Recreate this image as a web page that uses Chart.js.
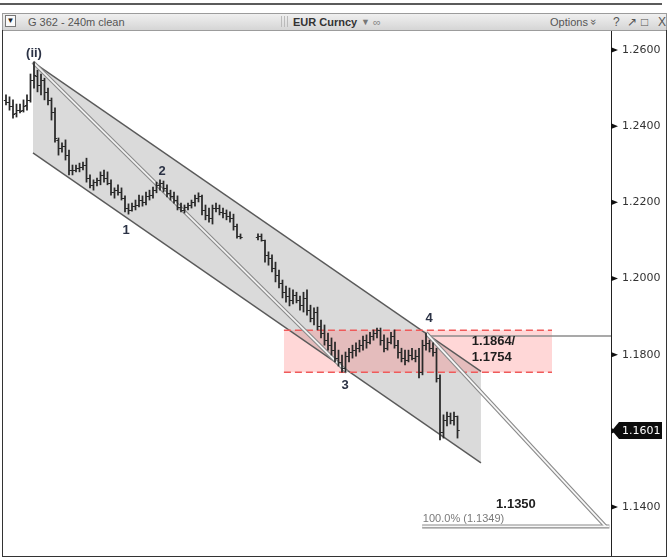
<!DOCTYPE html>
<html><head><meta charset="utf-8">
<script src="https://cdn.jsdelivr.net/npm/chart.js@4.4.1/dist/chart.umd.min.js"></script>
<style>
html,body{margin:0;padding:0;background:#fff;}
body{width:670px;height:560px;position:relative;overflow:hidden;font-family:"Liberation Sans",Arial,sans-serif;}
#topline{position:absolute;left:0;top:3px;width:662px;height:2px;background:#5b5b5b;}
#hdr{position:absolute;left:2px;top:13px;width:665px;height:18px;box-sizing:border-box;border:1px solid #9c9c9c;background:linear-gradient(#f0f0f0,#d5d5d5);font-size:11px;color:#555;}
#hdr span{position:absolute;top:1px;line-height:14px;white-space:nowrap;}
#dd{position:absolute;left:2px;top:1px;width:11px;height:12px;box-sizing:border-box;border:1px solid #777;background:#fafafa;font-size:8px;line-height:10px;text-align:center;color:#222;}
#grip{position:absolute;left:278px;top:2px;width:7px;height:11px;background:repeating-linear-gradient(90deg,#bbb 0 1px,transparent 1px 3px);}
#frame{position:absolute;left:2px;top:30px;width:665px;height:527px;box-sizing:border-box;border-left:1px solid #333;border-right:1px solid #333;border-bottom:1px solid #333;}
#wrap{position:absolute;left:3px;top:31px;width:662px;height:525px;}
</style></head>
<body>
<div id="topline"></div>
<div id="hdr">
  <div id="dd">&#9660;</div>
  <span style="left:25px;">G 362 - 240m clean</span>
  <div id="grip"></div>
  <span style="left:290px;font-weight:bold;color:#333;">EUR Curncy</span>
  <span style="left:358px;color:#777;font-size:9px;">&#9660;</span>
  <span style="left:370px;color:#888;">&#8734;</span>
  <span style="left:547px;">Options <span style="position:static;display:inline-block;transform:rotate(90deg);">&#187;</span></span>
  <span style="left:610px;font-size:12px;">?</span>
  <span style="left:624px;font-size:12px;">&#8599;</span>
  <span style="left:638px;font-size:12px;">&#9633;</span>
  <span style="left:655px;font-size:12px;">X</span>
</div>
<div id="frame"></div>
<div id="wrap"><canvas id="c" width="662" height="525"></canvas></div>
<script>
// ---- price bars (240m OHLC), gap = missing bars ----
const opens = [
1.2469,1.2463,1.2453,1.2435,1.2442,1.2442,1.2456,1.2469,1.2521,1.2532,
1.2508,1.2521,1.2490,1.2469,1.2437,1.2364,1.2343,1.2348,1.2324,1.2285,
1.2285,1.2290,1.2293,1.2298,1.2264,1.2246,1.2253,1.2259,1.2272,1.2264,
1.2251,1.2227,1.2232,1.2227,1.2211,1.2185,1.2180,1.2190,1.2193,1.2206,
1.2201,1.2217,1.2219,1.2232,1.2246,1.2251,1.2238,1.2225,1.2217,1.2206,
1.2188,1.2180,1.2188,1.2193,1.2201,1.2211,1.2217,1.2180,1.2167,1.2159,
1.2185,1.2185,1.2175,1.2172,1.2164,1.2159,1.2138,1.2112,null,null,null,null,
1.2109,1.2112,1.2101,1.2062,1.2054,1.2028,1.2009,1.1988,
1.1964,1.1954,1.1944,1.1957,1.1944,1.1930,1.1949,1.1917,1.1896,1.1912,
1.1875,1.1857,1.1838,1.1825,1.1812,1.1791,1.1781,1.1765,1.1796,1.1807,
1.1812,1.1817,1.1825,1.1838,1.1833,1.1849,1.1857,1.1865,1.1838,1.1817,
1.1833,1.1849,1.1825,1.1807,1.1791,1.1786,1.1799,1.1791,1.1796,1.1754,
1.1825,1.1831,1.1817,1.1807,1.1739,1.1597,1.1628,1.1639,1.1628,1.1639];
const highs = [
1.2482,1.2477,1.2469,1.2458,1.2458,1.2469,1.2482,1.2537,1.2568,1.2547,
1.2537,1.2526,1.2500,1.2474,1.2448,1.2369,1.2356,1.2364,1.2337,1.2298,
1.2298,1.2303,1.2306,1.2316,1.2272,1.2259,1.2264,1.2280,1.2285,1.2280,
1.2259,1.2238,1.2246,1.2238,1.2217,1.2196,1.2198,1.2206,1.2219,1.2217,
1.2227,1.2232,1.2240,1.2253,1.2259,1.2256,1.2246,1.2232,1.2227,1.2217,
1.2198,1.2193,1.2198,1.2206,1.2219,1.2225,1.2219,1.2193,1.2185,1.2193,
1.2198,1.2193,1.2185,1.2180,1.2175,1.2169,1.2143,1.2117,null,null,null,null,
1.2117,1.2117,1.2101,1.2070,1.2062,1.2043,1.2022,1.1996,
1.1980,1.1975,1.1970,1.1964,1.1954,1.1964,1.1970,1.1930,1.1923,1.1925,
1.1891,1.1878,1.1857,1.1844,1.1833,1.1812,1.1799,1.1807,1.1817,1.1825,
1.1831,1.1838,1.1849,1.1852,1.1859,1.1865,1.1870,1.1870,1.1852,1.1844,
1.1859,1.1865,1.1838,1.1817,1.1812,1.1812,1.1817,1.1812,1.1817,1.1838,
1.1857,1.1838,1.1831,1.1817,1.1747,1.1642,1.1649,1.1647,1.1649,1.1639];
const lows = [
1.2456,1.2442,1.2421,1.2424,1.2435,1.2437,1.2442,1.2463,1.2500,1.2490,
1.2482,1.2469,1.2456,1.2416,1.2358,1.2324,1.2332,1.2311,1.2272,1.2272,
1.2280,1.2280,1.2285,1.2253,1.2238,1.2232,1.2243,1.2246,1.2253,1.2246,
1.2219,1.2211,1.2219,1.2206,1.2175,1.2169,1.2177,1.2180,1.2188,1.2190,
1.2193,1.2206,1.2211,1.2225,1.2232,1.2227,1.2214,1.2206,1.2198,1.2180,
1.2175,1.2172,1.2180,1.2185,1.2190,1.2201,1.2167,1.2154,1.2148,1.2143,
1.2175,1.2167,1.2159,1.2154,1.2148,1.2127,1.2106,1.2104,null,null,null,null,
1.2101,1.2098,1.2043,1.2035,1.2017,1.1991,1.1975,1.1949,
1.1938,1.1928,1.1933,1.1936,1.1917,1.1912,1.1904,1.1886,1.1878,1.1865,
1.1844,1.1825,1.1812,1.1799,1.1781,1.1770,1.1754,1.1754,1.1781,1.1791,
1.1796,1.1807,1.1812,1.1817,1.1828,1.1838,1.1844,1.1825,1.1807,1.1812,
1.1828,1.1817,1.1791,1.1781,1.1773,1.1781,1.1786,1.1781,1.1739,1.1747,
1.1812,1.1807,1.1796,1.1728,1.1576,1.1581,1.1613,1.1618,1.1615,1.1581];
const closes = [
1.2463,1.2453,1.2432,1.2442,1.2440,1.2453,1.2469,1.2521,1.2534,1.2508,
1.2521,1.2490,1.2469,1.2437,1.2369,1.2343,1.2348,1.2324,1.2285,1.2285,
1.2290,1.2293,1.2298,1.2264,1.2246,1.2253,1.2259,1.2272,1.2264,1.2251,
1.2227,1.2232,1.2227,1.2211,1.2185,1.2180,1.2190,1.2193,1.2206,1.2201,
1.2217,1.2219,1.2232,1.2246,1.2251,1.2238,1.2225,1.2217,1.2206,1.2188,
1.2180,1.2188,1.2193,1.2201,1.2211,1.2217,1.2180,1.2167,1.2159,1.2185,
1.2185,1.2175,1.2172,1.2164,1.2159,1.2138,1.2112,1.2109,null,null,null,null,
1.2112,1.2101,1.2062,1.2054,1.2028,1.2009,1.1988,1.1964,
1.1954,1.1944,1.1957,1.1944,1.1930,1.1949,1.1917,1.1896,1.1912,1.1875,
1.1857,1.1838,1.1825,1.1812,1.1791,1.1781,1.1765,1.1796,1.1807,1.1812,
1.1817,1.1825,1.1838,1.1833,1.1849,1.1857,1.1865,1.1838,1.1817,1.1833,
1.1849,1.1825,1.1807,1.1791,1.1786,1.1799,1.1791,1.1796,1.1754,1.1825,
1.1831,1.1817,1.1807,1.1739,1.1597,1.1628,1.1639,1.1628,1.1639,1.1601];

// ---- drawn studies (bar index, price) ----
const channelTop    = [[7.7, 1.2568], [135.7, 1.1756]];
const channelBottom = [[7.7, 1.2330], [135.7, 1.1516]];
const forkA         = [[7.7, 1.2568], [97.4, 1.1754]];
const forkB         = [[120.0, 1.1857], [171.3, 1.1349]];
const fibLine       = [[118.9, 1.1349], [172.4, 1.1349]];
const wave4Line     = [[120.0, 1.1849], [172.86, 1.1849]];
const zoneX         = [79.4, 156.0];
const zoneTop       = 1.1864;
const zoneBottom    = 1.1754;

// ---- axis ----
const tickValues = [1.13,1.14,1.15,1.16,1.17,1.18,1.19,1.20,1.21,1.22,1.23,1.24,1.25,1.26];
const tickLabels = {'1.14':'1.1400','1.16':'1.1600','1.18':'1.1800','1.20':'1.2000','1.22':'1.2200','1.24':'1.2400','1.26':'1.2600'};
const lastPrice = 1.1601;

// ---- text annotations ----
const waveText = ['(ii)', '1', '2', '3', '4'];
const waveX    = [8.0, 34.3, 44.6, 96.9, 120.9];
const waveY    = [1.2592, 1.2127, 1.2282, 1.1718, 1.1894];
const noteText = ['1.1864/', '1.1754', '1.1350'];
const noteX    = [133.1, 133.1, 145.7];
const noteY    = [1.1836, 1.1794, 1.1408];
const fibText  = '100.0% (1.1349)';
const fibX = 119.1, fibY = 1.1368;

const pts = a => a.map(p => ({x: p[0], y: p[1]}));
const barData = [];
for (let i = 0; i < closes.length; i++) {
  if (highs[i] === null) continue;
  barData.push({x: i, y: [lows[i], highs[i]]});
}

const ohlcTicks = {
  id: 'ohlcTicks',
  afterDatasetsDraw(chart) {
    const {ctx, scales: {x, y}} = chart;
    ctx.save();
    ctx.strokeStyle = '#2a2a2a';
    ctx.lineWidth = 1;
    ctx.beginPath();
    for (let i = 0; i < closes.length; i++) {
      if (opens[i] === null) continue;
      const px = x.getPixelForValue(i);
      const po = Math.round(y.getPixelForValue(opens[i])) + 0.5;
      const pc = Math.round(y.getPixelForValue(closes[i])) + 0.5;
      ctx.moveTo(px - 2.2, po); ctx.lineTo(px, po);
      ctx.moveTo(px, pc); ctx.lineTo(px + 2.2, pc);
    }
    ctx.stroke();
    ctx.restore();
  }
};

const annot = {
  id: 'annot',
  afterDraw(chart) {
    const {ctx, scales: {x, y}} = chart;
    ctx.save();
    // axis arrow marks on major ticks
    ctx.fillStyle = '#111';
    Object.keys(tickLabels).forEach(k => {
      const py = y.getPixelForValue(parseFloat(k));
      ctx.beginPath();
      ctx.moveTo(y.left, py - 2.8); ctx.lineTo(y.left + 7, py); ctx.lineTo(y.left, py + 2.8);
      ctx.closePath(); ctx.fill();
    });
    // wave labels
    ctx.font = 'bold 13px "Liberation Sans", Arial, sans-serif';
    ctx.textAlign = 'center'; ctx.textBaseline = 'middle';
    ctx.fillStyle = '#2b3245';
    waveText.forEach((t, i) => ctx.fillText(t, x.getPixelForValue(waveX[i]), y.getPixelForValue(waveY[i])));
    // target notes
    ctx.fillStyle = '#1e1e1e';
    ctx.textAlign = 'left';
    ctx.fillText(noteText[0], x.getPixelForValue(noteX[0]), y.getPixelForValue(noteY[0]));
    ctx.fillText(noteText[1], x.getPixelForValue(noteX[1]), y.getPixelForValue(noteY[1]));
    ctx.textAlign = 'center';
    ctx.fillText(noteText[2], x.getPixelForValue(noteX[2]), y.getPixelForValue(noteY[2]));
    // fib label
    ctx.font = '11px "Liberation Sans", Arial, sans-serif';
    ctx.fillStyle = '#7a7a7a';
    ctx.textAlign = 'left';
    ctx.fillText(fibText, x.getPixelForValue(fibX), y.getPixelForValue(fibY));
    // last price box
    const py = y.getPixelForValue(lastPrice);
    const ax = y.left + 1;
    ctx.fillStyle = '#0c0c0c';
    ctx.beginPath();
    ctx.moveTo(ax, py); ctx.lineTo(ax + 7, py - 8.5); ctx.lineTo(ax + 50, py - 8.5);
    ctx.lineTo(ax + 50, py + 8.5); ctx.lineTo(ax + 7, py + 8.5); ctx.closePath(); ctx.fill();
    ctx.fillStyle = '#ffffff';
    ctx.font = '11px "DejaVu Sans", sans-serif';
    ctx.textAlign = 'left'; ctx.textBaseline = 'middle';
    ctx.fillText(lastPrice.toFixed(4), ax + 10, py + 0.5);
    ctx.restore();
  }
};

const lineBase = {type: 'line', pointRadius: 0, pointHoverRadius: 0, fill: false, tension: 0};

new Chart(document.getElementById('c'), {
  type: 'bar',
  data: {
    datasets: [
      {type: 'bar', label: 'EUR Curncy', data: barData, backgroundColor: '#2a2a2a', barThickness: 1.1, order: 0},
      Object.assign({}, lineBase, {label: 'Channel top', data: pts(channelTop), borderColor: '#5a5a5a', borderWidth: 1.4, order: 12}),
      Object.assign({}, lineBase, {label: 'Channel bottom', data: pts(channelBottom), borderColor: '#5a5a5a', borderWidth: 1.4, fill: '-1', backgroundColor: 'rgba(196,196,196,0.62)', order: 11}),
      Object.assign({}, lineBase, {label: 'Zone top', data: [{x: zoneX[0], y: zoneTop}, {x: zoneX[1], y: zoneTop}], borderColor: '#ef5a5a', borderWidth: 1.4, borderDash: [7, 4], order: 10}),
      Object.assign({}, lineBase, {label: 'Zone bottom', data: [{x: zoneX[0], y: zoneBottom}, {x: zoneX[1], y: zoneBottom}], borderColor: '#ef5a5a', borderWidth: 1.4, borderDash: [7, 4], fill: '-1', backgroundColor: 'rgba(255,110,110,0.28)', order: 9}),
      Object.assign({}, lineBase, {label: 'Wave 4 level', data: pts(wave4Line), borderColor: '#8c8c8c', borderWidth: 1.4, order: 8}),
      Object.assign({}, lineBase, {label: 'Fork A', data: pts(forkA), borderColor: '#8a8a8a', borderWidth: 4, order: 7}),
      Object.assign({}, lineBase, {label: 'Fork A in', data: pts(forkA), borderColor: '#f2f2f2', borderWidth: 1.8, order: 6}),
      Object.assign({}, lineBase, {label: 'Fork B', data: pts(forkB), borderColor: '#8a8a8a', borderWidth: 4, order: 7}),
      Object.assign({}, lineBase, {label: 'Fork B in', data: pts(forkB), borderColor: '#f8f8f8', borderWidth: 1.8, order: 6}),
      Object.assign({}, lineBase, {label: 'Fib', data: pts(fibLine), borderColor: '#8a8a8a', borderWidth: 4, order: 7}),
      Object.assign({}, lineBase, {label: 'Fib in', data: pts(fibLine), borderColor: '#f8f8f8', borderWidth: 1.8, order: 6})
    ]
  },
  options: {
    responsive: false,
    animation: false,
    devicePixelRatio: 1,
    layout: {padding: 0},
    plugins: {legend: {display: false}, tooltip: {enabled: false}, filler: {drawTime: 'beforeDatasetsDraw'}},
    scales: {
      x: {type: 'linear', min: -0.857, max: 172.857, display: false, offset: false},
      y: {
        type: 'linear', position: 'right', min: 1.127139, max: 1.264989,
        afterBuildTicks: s => { s.ticks = tickValues.map(v => ({value: v})); },
        afterFit: s => { s.width = 54; s.paddingTop = 0; s.paddingBottom = 0; },
        ticks: {
          autoSkip: false, padding: 6, color: '#333',
          font: {family: '"DejaVu Sans", sans-serif', size: 11},
          callback: v => { const k = (+v).toFixed(2); return tickLabels[k] || null; }
        },
        grid: {drawOnChartArea: false, drawTicks: true, tickLength: 5, tickColor: '#333', tickWidth: 1},
        border: {display: true, color: '#222', width: 1}
      }
    }
  },
  plugins: [ohlcTicks, annot]
});
</script>
</body></html>
